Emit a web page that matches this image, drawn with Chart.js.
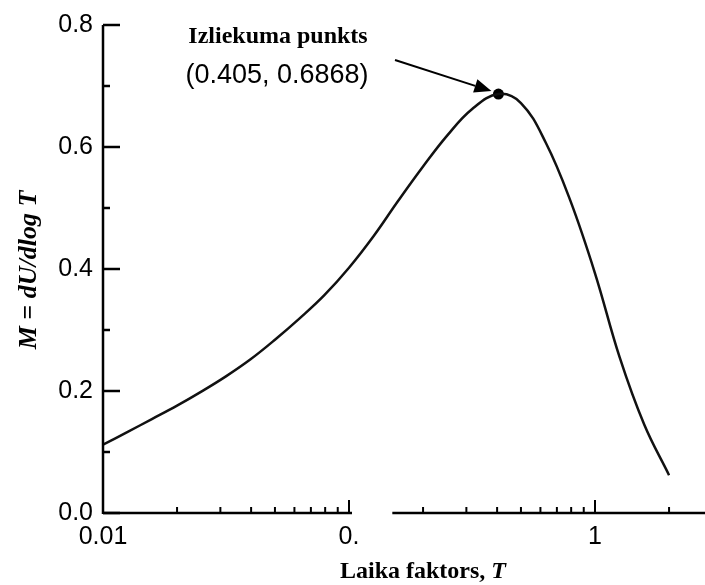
<!DOCTYPE html>
<html>
<head>
<meta charset="utf-8">
<script src="https://cdn.jsdelivr.net/npm/chart.js@4"></script>
<style>
  body { margin: 0; background: #fff; }
  canvas { display: block; }
</style>
</head>
<body>
<canvas id="chart" width="705" height="585"></canvas>
<script>
// --- data ---
const laikaT = [0.01, 0.0126, 0.0158, 0.02, 0.0251, 0.0316, 0.0398, 0.05, 0.063, 0.0794,
                0.1, 0.126, 0.158, 0.2, 0.251, 0.316, 0.405, 0.5, 0.631, 0.794,
                1.0, 1.26, 1.585, 2.0];
const vertibaM = [0.112, 0.133, 0.154, 0.176, 0.199, 0.224, 0.252, 0.284, 0.319, 0.357,
                  0.402, 0.454, 0.511, 0.568, 0.619, 0.662, 0.6868, 0.672, 0.607, 0.512,
                  0.393, 0.255, 0.145, 0.062];
const peakT = 0.405;
const peakM = 0.6868;

// axis ticks
const xLabelTicks = [0.01, 0.1, 1];
const xLabelText = ['0.01', '0.', '1'];
const xMajorTicks = [0.1, 1];
const xMinorTicks = [0.02, 0.03, 0.04, 0.05, 0.06, 0.07, 0.08, 0.09,
                     0.2, 0.3, 0.4, 0.5, 0.6, 0.7, 0.8, 0.9, 2];
const yMajorTicks = [0, 0.2, 0.4, 0.6, 0.8];
const yMinorTicks = [0.1, 0.3, 0.5, 0.7];

const SANS = "'Liberation Sans', Arial, sans-serif";
const SERIF = "'Liberation Serif', 'Times New Roman', serif";

// axis lines, inward ticks, titles and the annotation
const decorPlugin = {
    id: 'decor',
    afterDraw(chart) {
        const ctx = chart.ctx;
        const xs = chart.scales.x;
        const ys = chart.scales.y;
        const a = chart.chartArea;
        ctx.save();
        ctx.strokeStyle = '#000';
        ctx.lineWidth = 2.5;
        ctx.lineCap = 'butt';

        // y axis line
        ctx.beginPath();
        ctx.moveTo(a.left, a.top);
        ctx.lineTo(a.left, a.bottom + 1);
        ctx.stroke();

        // x axis line, broken after 0.1 like in the original
        ctx.beginPath();
        ctx.moveTo(a.left, a.bottom);
        ctx.lineTo(xs.getPixelForValue(0.1) + 3, a.bottom);
        ctx.moveTo(xs.getPixelForValue(0.15), a.bottom);
        ctx.lineTo(a.right, a.bottom);
        ctx.stroke();

        // y ticks (pointing inside)
        yMajorTicks.forEach(v => {
            const py = ys.getPixelForValue(v);
            ctx.beginPath();
            ctx.moveTo(a.left, py);
            ctx.lineTo(a.left + 17, py);
            ctx.stroke();
        });
        yMinorTicks.forEach(v => {
            const py = ys.getPixelForValue(v);
            ctx.beginPath();
            ctx.moveTo(a.left, py);
            ctx.lineTo(a.left + 7, py);
            ctx.stroke();
        });

        // x ticks (pointing up)
        ctx.lineWidth = 2;
        xMajorTicks.forEach(v => {
            const px = xs.getPixelForValue(v);
            ctx.beginPath();
            ctx.moveTo(px, a.bottom);
            ctx.lineTo(px, a.bottom - 13);
            ctx.stroke();
        });
        xMinorTicks.forEach(v => {
            const px = xs.getPixelForValue(v);
            ctx.beginPath();
            ctx.moveTo(px, a.bottom);
            ctx.lineTo(px, a.bottom - 6);
            ctx.stroke();
        });

        ctx.fillStyle = '#000';

        // y title
        ctx.save();
        ctx.translate(29, 270);
        ctx.rotate(-Math.PI / 2);
        ctx.font = 'italic bold 26px ' + SERIF;
        ctx.textAlign = 'center';
        ctx.textBaseline = 'middle';
        ctx.fillText('M = dU/dlog T', 0, 0);
        ctx.restore();

        // x title: "Laika faktors, " bold + "T" bold italic
        const part1 = 'Laika faktors, ';
        const part2 = 'T';
        ctx.font = 'bold 24px ' + SERIF;
        const w1 = ctx.measureText(part1).width;
        ctx.font = 'italic bold 24px ' + SERIF;
        const w2 = ctx.measureText(part2).width;
        const startX = 423 - (w1 + w2) / 2;
        ctx.textAlign = 'left';
        ctx.textBaseline = 'middle';
        ctx.font = 'bold 24px ' + SERIF;
        ctx.fillText(part1, startX, 572);
        ctx.font = 'italic bold 24px ' + SERIF;
        ctx.fillText(part2, startX + w1, 572);

        // annotation text
        ctx.textAlign = 'center';
        ctx.font = 'bold 24px ' + SERIF;
        ctx.fillText('Izliekuma punkts', 278, 37);
        ctx.font = '27px ' + SANS;
        ctx.fillText('(' + peakT + ', ' + peakM + ')', 277, 76);

        // arrow to the inflection point
        const tipX = xs.getPixelForValue(peakT) - 7;
        const tipY = ys.getPixelForValue(peakM) - 3;
        const tailX = 395, tailY = 60;
        const ang = Math.atan2(tipY - tailY, tipX - tailX);
        const headLen = 17, headW = 7;
        const baseX = tipX - headLen * Math.cos(ang);
        const baseY = tipY - headLen * Math.sin(ang);
        ctx.lineWidth = 2;
        ctx.beginPath();
        ctx.moveTo(tailX, tailY);
        ctx.lineTo(baseX, baseY);
        ctx.stroke();
        ctx.beginPath();
        ctx.moveTo(tipX, tipY);
        ctx.lineTo(baseX + headW * Math.sin(ang), baseY - headW * Math.cos(ang));
        ctx.lineTo(baseX - headW * Math.sin(ang), baseY + headW * Math.cos(ang));
        ctx.closePath();
        ctx.fill();

        ctx.restore();
    }
};

const chartConfig = {
    type: 'line',
    data: {
        datasets: [{
            label: 'M',
            data: laikaT.map((t, i) => ({ x: t, y: vertibaM[i] })),
            borderColor: '#111',
            borderWidth: 2.5,
            pointRadius: 0,
            tension: 0.4,
            fill: false
        }, {
            label: 'Izliekuma punkts',
            data: [{ x: peakT, y: peakM }],
            showLine: false,
            pointRadius: 5.5,
            pointBackgroundColor: '#000',
            pointBorderColor: '#000',
            pointBorderWidth: 0
        }]
    },
    options: {
        responsive: false,
        animation: false,
        devicePixelRatio: 1,
        layout: { autoPadding: false, padding: { top: 25, right: 0, left: 0, bottom: 0 } },
        plugins: {
            legend: { display: false },
            tooltip: { enabled: false }
        },
        scales: {
            x: {
                type: 'logarithmic',
                min: 0.01,
                max: 2.8,
                grid: { display: false, drawTicks: false },
                border: { display: false },
                afterBuildTicks: s => { s.ticks = xLabelTicks.map(v => ({ value: v })); },
                afterFit: s => { s.height = 72; },
                ticks: {
                    autoSkip: false,
                    maxRotation: 0,
                    padding: 9,
                    color: '#000',
                    font: { family: SANS, size: 25 },
                    callback: v => {
                        const i = xLabelTicks.findIndex(t => Math.abs(t - v) < 1e-9);
                        return i >= 0 ? xLabelText[i] : '';
                    }
                }
            },
            y: {
                min: 0,
                max: 0.8,
                grid: { display: false, drawTicks: false },
                border: { display: false },
                afterBuildTicks: s => { s.ticks = yMajorTicks.map(v => ({ value: v })); },
                afterFit: s => { s.width = 103; },
                ticks: {
                    padding: 10,
                    color: '#000',
                    font: { family: SANS, size: 25 },
                    callback: v => v.toFixed(1)
                }
            }
        }
    },
    plugins: [decorPlugin]
};

new Chart(document.getElementById('chart'), chartConfig);
</script>
</body>
</html>
